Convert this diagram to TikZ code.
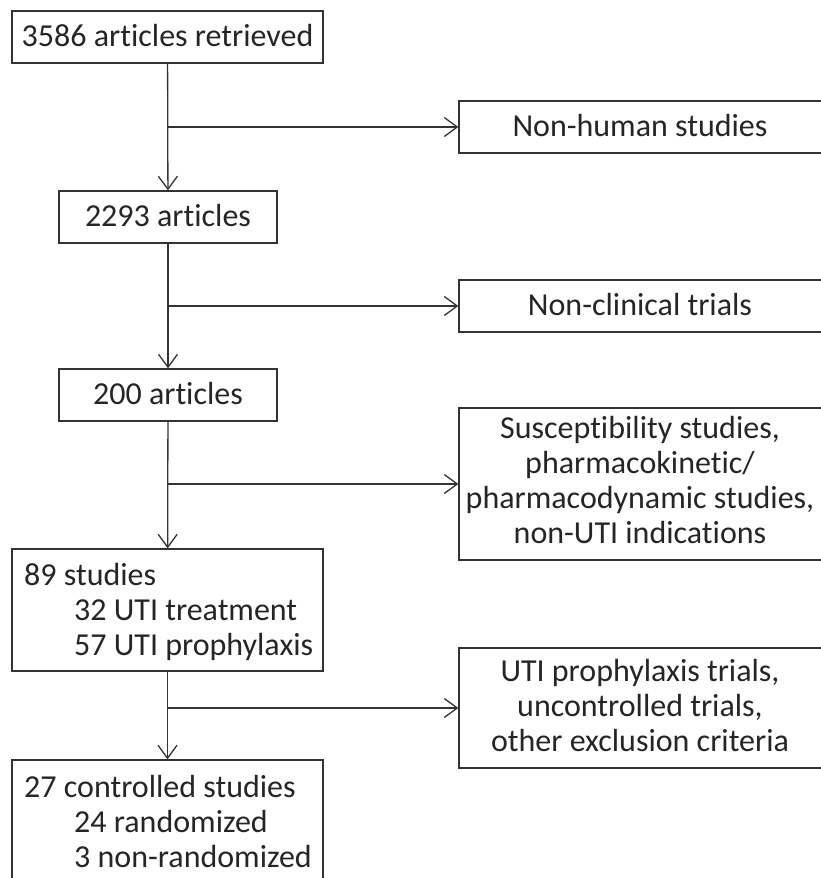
\documentclass[tikz,border=0pt]{standalone}
\usepackage{fontspec}
\setmainfont[Ligatures=NoCommon]{Carlito}
\usetikzlibrary{arrows.meta}
\definecolor{ink}{HTML}{252525}
\definecolor{linec}{HTML}{333333}
\begin{document}
\begin{tikzpicture}[x=1pt,y=-1pt,
  box/.style={draw=linec, line width=1.3pt, rectangle, inner sep=0pt},
  txt/.style={text=ink, font=\fontsize{32}{35}\selectfont, inner sep=0pt},
  arr/.style={draw=linec, line width=1.3pt, -{Straight Barb[length=13pt,width=19pt,line width=1.3pt]}}]
\useasboundingbox (0,0) rectangle (821,878);
\clip (0,0) rectangle (821,878);
% left column boxes
\node[box, minimum width=311pt, minimum height=52pt] (b1) at (167.5,37) {};
\node[txt, anchor=base] (t1) at (167.5,46) {3586 articles retrieved};
\node[box, minimum width=218pt, minimum height=52pt] (b2) at (168,217) {};
\node[txt, anchor=base] (t2) at (168,226) {2293 articles};
\node[box, minimum width=218pt, minimum height=52pt] (b3) at (168,395) {};
\node[txt, anchor=base] (t3) at (168,404) {200 articles};
\node[box, minimum width=311pt, minimum height=122pt] (b4) at (167.5,610) {};
\node[txt, anchor=base west, align=left] (t4) at (24,655) {89 studies\\\hspace*{50pt}32 UTI treatment\\\hspace*{50pt}57 UTI prophylaxis};
\node[box, minimum width=311pt, minimum height=140pt] (b5) at (167.5,830) {};
\node[txt, anchor=base west, align=left] (t5) at (24,867) {27 controlled studies\\\hspace*{50pt}24 randomized\\\hspace*{50pt}3 non-randomized};
% right column boxes
\node[box, minimum width=372pt, minimum height=52pt] (r1) at (645,127) {};
\node[txt, anchor=base] (s1) at (640,136) {Non-human studies};
\node[box, minimum width=372pt, minimum height=52pt] (r2) at (645,306) {};
\node[txt, anchor=base] (s2) at (640,315) {Non-clinical trials};
\node[box, minimum width=372pt, minimum height=152pt] (r3) at (645,484) {};
\node[txt, align=center, anchor=base] (s3) at (640,543) {Susceptibility studies,\\pharmacokinetic/\\pharmacodynamic studies,\\non-UTI indications};
\node[box, minimum width=372pt, minimum height=120pt] (r4) at (645,708) {};
\node[txt, align=center, anchor=base] (s4) at (640,751) {UTI prophylaxis trials,\\uncontrolled trials,\\other exclusion criteria};
% connectors
\draw[arr] (b1) -- (b2);
\draw[arr] (b2) -- (b3);
\draw[arr] (b3) -- (b4);
\draw[arr] (b4) -- (b5.north);
\draw[arr] (b1.south |- r1.west) -- (r1.west);
\draw[arr] (b2.south |- r2.west) -- (r2.west);
\draw[arr] (b3.south |- r3.west) -- (r3.west);
\draw[arr] (b4.south |- r4.west) -- (r4.west);
\end{tikzpicture}
\end{document}
